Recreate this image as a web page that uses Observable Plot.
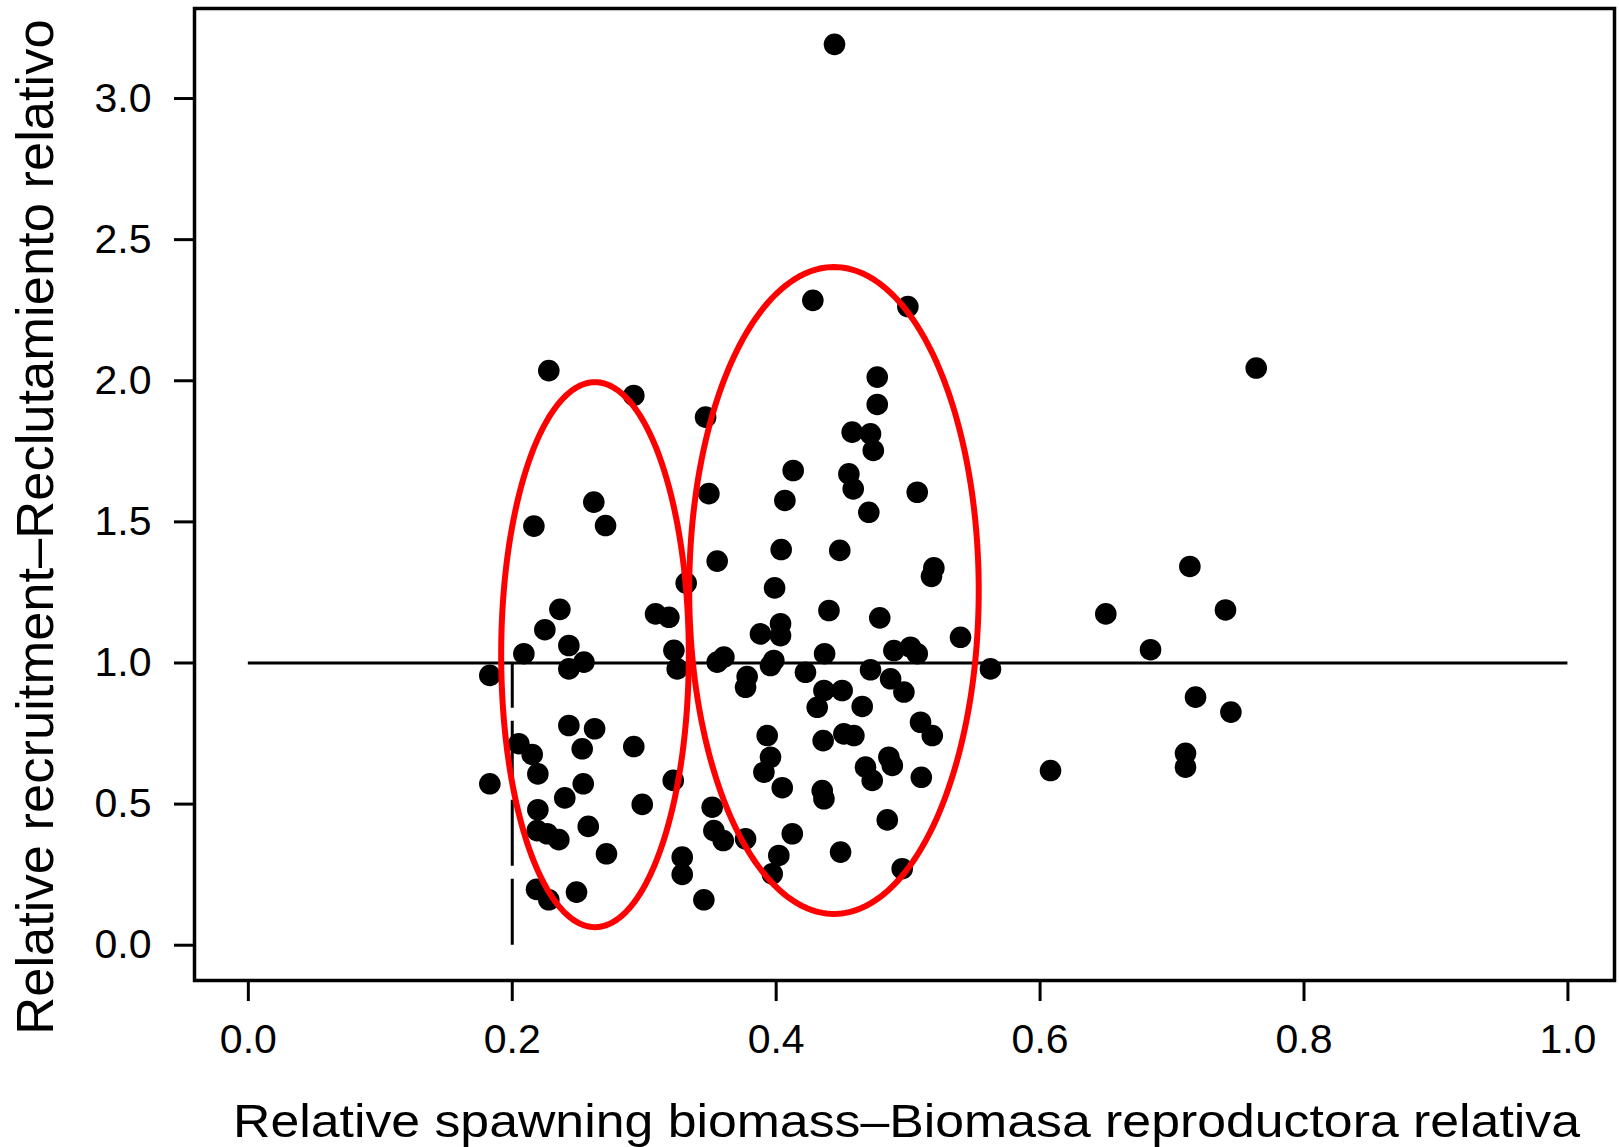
<!DOCTYPE html>
<html>
<head>
<meta charset="utf-8">
<script src="https://cdn.jsdelivr.net/npm/d3@7"></script>
<script src="https://cdn.jsdelivr.net/npm/@observablehq/plot@0.6"></script>
<style>
  html, body { margin: 0; padding: 0; background: #ffffff; }
  #chart svg { display: block; }
</style>
</head>
<body>
<div id="chart"></div>
<script>
// ---- Data ----
const spawningBiomass = [
  0.4442, 0.4278, 0.4998, 0.7638, 0.2277, 0.4766, 0.2921, 0.4766, 0.3465, 0.4576,
  0.4715, 0.4736, 0.4129, 0.4551, 0.4584, 0.5069, 0.3490, 0.4066, 0.2618, 0.4702,
  0.2707, 0.2164, 0.4038, 0.4482, 0.3553, 0.7135, 0.5195, 0.5177, 0.3318, 0.3988,
  0.2361, 0.7405, 0.4400, 0.6498, 0.3086, 0.3187, 0.4785, 0.4033, 0.2247, 0.3881,
  0.4033, 0.5397, 0.2429, 0.3225, 0.5018, 0.6837, 0.4892, 0.2088, 0.4367, 0.5069,
  0.3604, 0.2543, 0.3553, 0.3982, 0.3957, 0.2429, 0.3250, 0.5624, 0.4715, 0.4222,
  0.1830, 0.3780, 0.4867, 0.3768, 0.4362, 0.4500, 0.4968, 0.7178, 0.4652, 0.4311,
  0.7446, 0.5094, 0.2429, 0.2624, 0.3932, 0.4513, 0.4589, 0.5183, 0.4356, 0.2050,
  0.2921, 0.2530, 0.7102, 0.2151, 0.3957, 0.4854, 0.4677, 0.4880, 0.7102, 0.6079,
  0.3907, 0.2194, 0.5100, 0.3220, 0.4728, 0.1830, 0.2538, 0.4046, 0.4349, 0.2398,
  0.4362, 0.2985, 0.3515, 0.2194, 0.4842, 0.2576, 0.2189, 0.3528, 0.4122, 0.2265,
  0.3768, 0.2353, 0.3599, 0.4488, 0.2714, 0.4020, 0.3288, 0.4955, 0.3970, 0.3288,
  0.2184, 0.2487, 0.2277, 0.3452
];
const recruitment = [
  3.192, 2.285, 2.263, 2.045, 2.036, 2.013, 1.948, 1.916, 1.871, 1.818,
  1.812, 1.753, 1.682, 1.670, 1.617, 1.605, 1.600, 1.576, 1.570, 1.534,
  1.487, 1.485, 1.402, 1.399, 1.361, 1.342, 1.337, 1.307, 1.283, 1.266,
  1.190, 1.188, 1.186, 1.174, 1.174, 1.162, 1.160, 1.139, 1.118, 1.103,
  1.097, 1.091, 1.062, 1.045, 1.056, 1.047, 1.044, 1.033, 1.033, 1.033,
  1.021, 1.003, 1.003, 1.009, 0.991, 0.979, 0.979, 0.979, 0.976, 0.967,
  0.956, 0.952, 0.944, 0.914, 0.9025, 0.9025, 0.897, 0.879, 0.846, 0.843,
  0.826, 0.790, 0.7785, 0.767, 0.743, 0.749, 0.743, 0.743, 0.725, 0.714,
  0.704, 0.696, 0.680, 0.676, 0.666, 0.666, 0.631, 0.637, 0.631, 0.619,
  0.613, 0.607, 0.595, 0.584, 0.584, 0.572, 0.572, 0.558, 0.548, 0.522,
  0.519, 0.499, 0.489, 0.480, 0.444, 0.421, 0.406, 0.406, 0.395, 0.395,
  0.377, 0.374, 0.371, 0.330, 0.324, 0.318, 0.312, 0.271, 0.253, 0.251,
  0.198, 0.188, 0.161, 0.161
];

// Reference lines
const refLineY = 1.0, refLineX1 = 0.0, refLineX2 = 1.0;
const dashedX = 0.2, dashedY1 = 0.0, dashedY2 = 1.0;

// Highlight ellipses (centre and semi-axes in data units)
const ellipseCx = [0.2627, 0.4438];
const ellipseCy = [1.0295, 1.257];
const ellipseRx = [0.0711, 0.1097];
const ellipseRy = [0.9655, 1.146];

// Ticks and titles
const xTicks = [0.0, 0.2, 0.4, 0.6, 0.8, 1.0];
const yTicks = [0.0, 0.5, 1.0, 1.5, 2.0, 2.5, 3.0];
const xTitle = "Relative spawning biomass\u2013Biomasa reproductora relativa";
const yTitle = "Relative recruitment\u2013Reclutamiento relativo";

// ---- Build tables ----
const points = spawningBiomass.map((x, i) => ({x, y: recruitment[i]}));
const ellipsePts = [];
ellipseCx.forEach((cx, k) => {
  const n = 240;
  for (let i = 0; i <= n; i++) {
    const t = (2 * Math.PI * i) / n;
    ellipsePts.push({id: k, x: cx + ellipseRx[k] * Math.cos(t), y: ellipseCy[k] + ellipseRy[k] * Math.sin(t)});
  }
});

const fmt = d3.format(".1f");

const chart = Plot.plot({
  width: 1619,
  height: 1147,
  marginLeft: 194,
  marginRight: 5,
  marginTop: 8,
  marginBottom: 167,
  x: {domain: [-0.0408, 1.0353]},
  y: {domain: [-0.125, 3.319]},
  style: {fontFamily: "'Liberation Sans', Arial, sans-serif", background: "#ffffff", color: "#000000"},
  marks: [
    Plot.ruleY([refLineY], {x1: refLineX1, x2: refLineX2, stroke: "#000", strokeWidth: 3}),
    Plot.ruleX([dashedX], {y1: dashedY1, y2: dashedY2, stroke: "#000", strokeWidth: 3, strokeDasharray: "66,13"}),
    Plot.dot(points, {x: "x", y: "y", r: 10.8, fill: "#000", stroke: "none"}),
    Plot.line(ellipsePts, {x: "x", y: "y", z: "id", stroke: "#ff0000", strokeWidth: 6}),
    Plot.frame({stroke: "#000", strokeWidth: 3.5}),
    Plot.axisX({ticks: xTicks, tickSize: 21, tickPadding: 22, fontSize: 41, tickFormat: fmt, label: null, strokeWidth: 3}),
    Plot.axisY({ticks: yTicks, tickSize: 20, tickPadding: 23, fontSize: 41, tickFormat: fmt, label: null, strokeWidth: 3})
  ]
});

document.getElementById("chart").appendChild(chart);

const svg = d3.select(chart);
svg.append("text")
  .attr("x", 906.5)
  .attr("y", 1136.5)
  .attr("text-anchor", "middle")
  .attr("font-size", 47)
  .attr("textLength", 1347)
  .attr("lengthAdjust", "spacingAndGlyphs")
  .attr("fill", "#000")
  .text(xTitle);
svg.append("text")
  .attr("transform", "translate(53,527) rotate(-90)")
  .attr("text-anchor", "middle")
  .attr("font-size", 52.5)
  .attr("fill", "#000")
  .text(yTitle);
</script>
</body>
</html>
